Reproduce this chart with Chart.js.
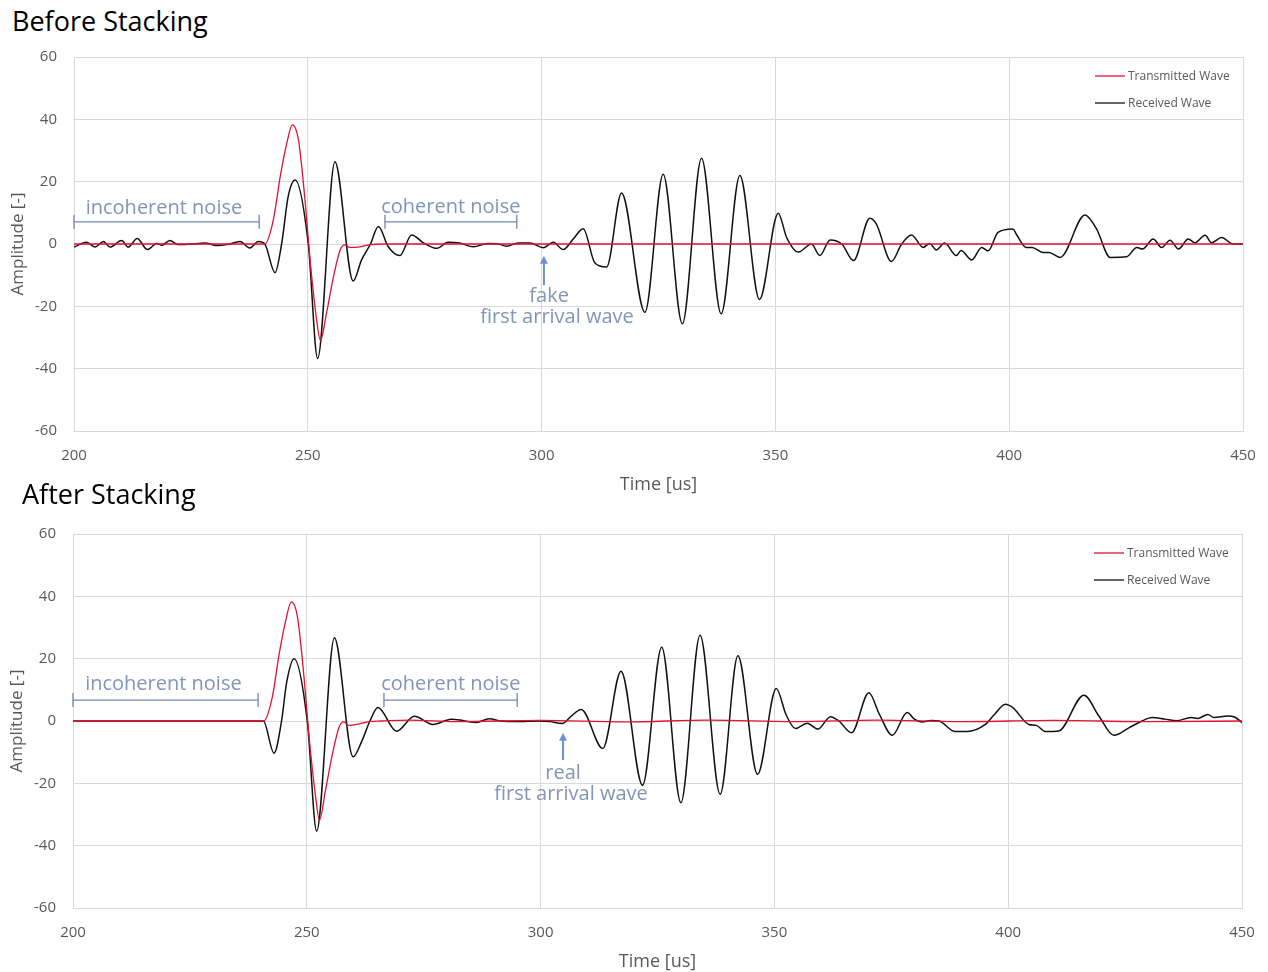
<!DOCTYPE html>
<html>
<head>
<meta charset="utf-8">
<script src="https://cdn.jsdelivr.net/npm/chart.js@4.4.0/dist/chart.umd.min.js"></script>
<style>
  html, body { margin: 0; padding: 0; background: #fff; overflow: hidden; }
  body { width: 1268px; height: 972px; position: relative; font-family: "Open Sans", sans-serif; }
  .caja { position: absolute; }
  .titulo { position: absolute; font-size: 27px; line-height: 1; color: #000; white-space: nowrap; }
</style>
</head>
<body>
<div class="titulo" style="left:12px;top:7px">Before Stacking</div>
<div class="caja" style="left:0;top:0;width:1268px;height:500px"><canvas id="antes"></canvas></div>
<div class="titulo" style="left:22px;top:480px">After Stacking</div>
<div class="caja" style="left:-1px;top:477px;width:1268px;height:495px"><canvas id="despues"></canvas></div>

<script>
// Onda transmitida (igual en ambos graficos)
const txTime = [200, 240.8, 242.6, 244.1, 245.5, 246.7, 248.0, 249.4, 250.5, 251.9, 252.7, 254.0, 255.5, 256.9, 257.9, 259.0, 261.2, 263.3, 266, 450];
const txAmp  = [0, 0, 7.5, 21.6, 32.3, 38.2, 33.4, 14.1, -5.3, -24.5, -31.0, -22.2, -10.5, -2.0, -0.3, -1.1, -0.9, -0.2, 0, 0];

// Despues del apilado la transmitida tiene un leve rizado
const txTimeAfter = [200, 240.8, 242.6, 244.1, 245.5, 246.7, 248.0, 249.4, 250.5, 251.9, 252.7, 254.0, 255.5, 256.9, 257.9, 259.0, 261.2, 263.3, 266, 272, 282, 300, 318, 336, 354, 372, 390, 410, 430, 450];
const txAmpAfter  = [0, 0, 7.5, 21.6, 32.3, 38.2, 33.4, 14.1, -5.3, -24.5, -31.8, -22.2, -10.5, -2.0, -0.3, -1.4, -0.9, -0.2, 0, 0.3, -0.2, 0.2, -0.3, 0.3, -0.2, 0.3, -0.2, 0.2, -0.2, 0];

// Onda recibida antes del apilado
const beforeRecTime = [200, 202.7, 204.5, 206.3, 207.7, 210.2, 211.6, 213.5, 215.7, 217.7, 218.8, 220.5, 222.3, 225.5, 228, 230.5, 232.7, 235.5, 237.6, 239.4,
  240.8, 243.0, 244.4, 245.8, 247.3, 250.1, 252.1, 255.8, 259.7, 261.5, 263.4, 265.1, 267.2, 269.7, 272.2, 274.8, 277.6, 280,
  282.5, 285.4, 288.5, 290.5, 292.5, 295, 297.5, 300.4, 302.5, 304.6, 306.8, 308.9, 311.4, 313.9, 317.1, 322.1, 326.0,
  330.1, 334.2, 338.4, 342.4, 346.6, 350.6, 352.4, 354.9, 357.7, 359.5, 361.7, 364.2, 366.7, 370.2,
  371.6, 374.8, 377.0, 379.1, 381.6, 383.0, 384.4, 386.2, 388.7, 389.7, 392.0, 394.1, 395.5, 397.6, 400.8, 401.5, 403.6, 404.9, 407.2, 408.5,
  410.9, 416.2, 418.7, 421.6, 425.1, 427.3, 428.5, 430.8, 432.6, 434.4, 436.2, 438.3, 439.7, 441.9, 443.3, 445.4, 447.9, 450];
const beforeRecAmp = [-1.0, 0.6, -1.0, 0.8, -1.0, 1.1, -1.0, 1.8, -1.8, 0.2, -0.4, 1.1, -0.2, 0.0, 0.3, -0.5, -0.2, 0.8, -1.3, 0.8,
  0.0, -9.2, 0, 15.2, 20.5, 0, -36.7, 26.4, -11.9, -5.1, 0, 5.6, -0.9, -3.7, 2.9, 0.3, -1.4, 0.6,
  0.3, -0.9, 0.2, 0.1, -0.7, 0.3, 0.3, -1.2, 0.6, -1.8, 1.7, 4.9, -6.1, -7.4, 16.4, -21.9, 22.4,
  -25.6, 27.5, -22.4, 22.0, -17.8, 9.9, 2.1, -2.6, 0, -3.7, 1.3, 0, -5.3, 8.3,
  6.4, -5.6, 0, 2.9, -1.1, 0.2, -1.9, 0.3, -3.7, -2.1, -5.1, -1.1, -2.2, 3.7, 4.8, 3.2, -1.1, -1.1, -2.7, -2.7,
  -4.3, 9.3, 4.8, -4.3, -4.1, -1.1, -1.6, 1.6, -1.1, 1.2, -1.6, 1.6, 0.4, 2.8, 0.4, 2.1, 0, 0];

// Onda recibida despues del apilado
const afterRecTime = [200, 240.7, 243.0, 244.6, 245.7, 247.3, 250.1, 252.1, 255.9, 259.9, 261.7, 263.5, 265.2, 269.2, 273.0,
  277.0, 280.9, 283.5, 286.1, 289.0, 291.5, 294.7, 299.7, 302, 304.6, 306.5, 308.7, 313.3, 317.2, 321.8,
  325.9, 330.0, 334.1, 338.4, 342.2, 346.4, 350.4, 352.5, 354.5, 357.0, 359.3, 362.0, 363.8, 366.5,
  370.2, 372.5, 375.2, 378.4, 380.0, 381.6, 383.5, 385.2, 388.7, 391.2, 395.1, 397.0, 399.4, 401.0, 404.4, 406.0, 408.0, 410.8, 416.2, 419.4,
  422.6, 425.8, 428.6, 430.8, 433.5, 436.0, 439.1, 440.5, 442.7, 444.0, 447.0, 448.5, 450];
const afterRecAmp = [0, 0, -10.3, 0, 12.5, 20.0, 0, -35.3, 26.7, -11.5, -6.7, 0, 4.3, -3.3, 1.5,
  -1.1, 0.6, 0.1, -0.5, 0.7, 0, -0.2, 0, -0.2, -0.8, 1.5, 3.7, -8.8, 16.0, -20.6,
  23.7, -26.2, 27.5, -23.5, 20.9, -17.1, 10.4, 2.0, -2.4, -0.7, -2.6, 1.4, 0, -3.8,
  9.1, 2.0, -4.6, 2.7, 0.5, -0.3, 0.2, 0, -3.4, -3.4, -1.1, 2.0, 5.4, 4.3, -1.1, -1.4, -3.4, -3.2, 8.3, 1.6,
  -4.6, -2.2, 0, 1.1, 0.6, 0.1, 1.1, 0.8, 2.1, 1.1, 1.6, 1.2, -0.5];

const etiquetas = ["Transmitted Wave", "Received Wave"];
const colores = ["#e3122f", "#111111"];
const xTicks = [200, 250, 300, 350, 400, 450];
const yTicks = [-60, -40, -20, 0, 20, 40, 60];

const gris = "#595959";
const rejilla = "#d9d9d9";
const azulTexto = "#8195b8";
const azulLinea = "#6f87b5";
const azulFlecha = "#6d90d0";

Chart.defaults.font.family = "'Open Sans', sans-serif";

function puntos(tiempos, valores) {
  return tiempos.map((t, i) => ({ x: t, y: valores[i] }));
}

// leyenda dentro del area del grafico, una fila por serie
const leyenda = {
  id: "leyenda",
  afterDraw(chart) {
    const ctx = chart.ctx;
    const a = chart.chartArea;
    ctx.save();
    ctx.font = "12px 'Open Sans', sans-serif";
    ctx.textBaseline = "middle";
    ctx.textAlign = "left";
    chart.data.datasets.forEach((ds, i) => {
      const y = a.top + 19 + i * 27;
      ctx.strokeStyle = ds.borderColor;
      ctx.lineWidth = 1.3;
      ctx.beginPath();
      ctx.moveTo(a.right - 148, y);
      ctx.lineTo(a.right - 118, y);
      ctx.stroke();
      ctx.fillStyle = gris;
      ctx.fillText(ds.label, a.right - 115, y + 1);
    });
    ctx.restore();
  }
};

// notas: textos, corchetes y flecha en coordenadas de los ejes
const notas = {
  id: "notas",
  afterDatasetsDraw(chart, args, opts) {
    const ctx = chart.ctx;
    const sx = chart.scales.x;
    const sy = chart.scales.y;
    ctx.save();
    (opts.items || []).forEach(it => {
      if (it.tipo === "texto") {
        ctx.font = "20px 'Open Sans', sans-serif";
        ctx.fillStyle = azulTexto;
        ctx.textAlign = it.align || "left";
        ctx.textBaseline = "middle";
        ctx.fillText(it.texto, sx.getPixelForValue(it.x), sy.getPixelForValue(it.y));
      } else if (it.tipo === "corchete") {
        const x1 = sx.getPixelForValue(it.x1);
        const x2 = sx.getPixelForValue(it.x2);
        const y = sy.getPixelForValue(it.y);
        ctx.strokeStyle = azulLinea;
        ctx.lineWidth = 1.3;
        ctx.beginPath();
        ctx.moveTo(x1, y); ctx.lineTo(x2, y);
        ctx.moveTo(x1, y - 7); ctx.lineTo(x1, y + 7);
        ctx.moveTo(x2, y - 7); ctx.lineTo(x2, y + 7);
        ctx.stroke();
      } else if (it.tipo === "flecha") {
        const x = sx.getPixelForValue(it.x);
        const yPunta = sy.getPixelForValue(it.y1);
        const yCola = sy.getPixelForValue(it.y2);
        ctx.strokeStyle = azulFlecha;
        ctx.fillStyle = azulFlecha;
        ctx.lineWidth = 2;
        ctx.beginPath();
        ctx.moveTo(x, yCola); ctx.lineTo(x, yPunta + 5);
        ctx.stroke();
        ctx.beginPath();
        ctx.moveTo(x, yPunta);
        ctx.lineTo(x - 4, yPunta + 8);
        ctx.lineTo(x + 4, yPunta + 8);
        ctx.closePath();
        ctx.fill();
      }
    });
    ctx.restore();
  }
};

function crearGrafico(id, txT, txA, recT, recA, items, altoEjeX, padTitulo) {
  return new Chart(document.getElementById(id), {
    type: "line",
    data: {
      datasets: [
        { label: etiquetas[0], data: puntos(txT, txA), borderColor: colores[0], borderWidth: 1.3 },
        { label: etiquetas[1], data: puntos(recT, recA), borderColor: colores[1], borderWidth: 1.5 }
      ]
    },
    options: {
      responsive: true,
      maintainAspectRatio: false,
      animation: false,
      parsing: false,
      elements: {
        point: { radius: 0 },
        line: { cubicInterpolationMode: "monotone", fill: false }
      },
      layout: { padding: { top: 57, right: 25, left: 0, bottom: 0 } },
      plugins: {
        legend: { display: false },
        tooltip: { enabled: false },
        notas: { items: items }
      },
      scales: {
        x: {
          type: "linear",
          min: xTicks[0],
          max: xTicks[xTicks.length - 1],
          afterBuildTicks: s => { s.ticks = xTicks.map(v => ({ value: v })); },
          afterFit: s => { s.height = altoEjeX; s.paddingLeft = 0; s.paddingRight = 0; },
          ticks: { color: gris, font: { size: 15 }, padding: 16, maxRotation: 0 },
          grid: { color: rejilla, drawTicks: false },
          border: { color: rejilla },
          title: { display: true, text: "Time [us]", color: gris, font: { size: 18, lineHeight: 1 }, padding: { top: 0, bottom: padTitulo } }
        },
        y: {
          min: yTicks[0],
          max: yTicks[yTicks.length - 1],
          afterBuildTicks: s => { s.ticks = yTicks.map(v => ({ value: v })); },
          afterFit: s => { s.width = 74; },
          ticks: { color: gris, font: { size: 15 }, padding: 17 },
          grid: { color: rejilla, drawTicks: false },
          border: { color: rejilla },
          title: { display: true, text: "Amplitude [-]", color: gris, font: { size: 17 }, padding: { top: 8, bottom: 0 } }
        }
      }
    },
    plugins: [leyenda, notas]
  });
}

crearGrafico("antes", txTime, txAmp, beforeRecTime, beforeRecAmp, [
  { tipo: "texto", texto: "incoherent noise", x: 202.5, y: 11.4 },
  { tipo: "corchete", x1: 200, x2: 239.6, y: 7.1 },
  { tipo: "texto", texto: "coherent noise", x: 265.7, y: 11.9 },
  { tipo: "corchete", x1: 266.5, x2: 294.7, y: 7.1 },
  { tipo: "flecha", x: 300.5, y1: -3.8, y2: -13.2 },
  { tipo: "texto", texto: "fake", x: 301.6, y: -16.8, align: "center" },
  { tipo: "texto", texto: "first arrival wave", x: 303.3, y: -23.5, align: "center" }
], 69, 6);

crearGrafico("despues", txTimeAfter, txAmpAfter, afterRecTime, afterRecAmp, [
  { tipo: "texto", texto: "incoherent noise", x: 202.6, y: 11.8 },
  { tipo: "corchete", x1: 200, x2: 239.6, y: 6.7 },
  { tipo: "texto", texto: "coherent noise", x: 265.9, y: 11.8 },
  { tipo: "corchete", x1: 266.5, x2: 295, y: 6.7 },
  { tipo: "flecha", x: 304.8, y1: -3.8, y2: -12.5 },
  { tipo: "texto", texto: "real", x: 304.8, y: -16.8, align: "center" },
  { tipo: "texto", texto: "first arrival wave", x: 306.5, y: -23.5, align: "center" }
], 64, 1);
</script>
</body>
</html>
